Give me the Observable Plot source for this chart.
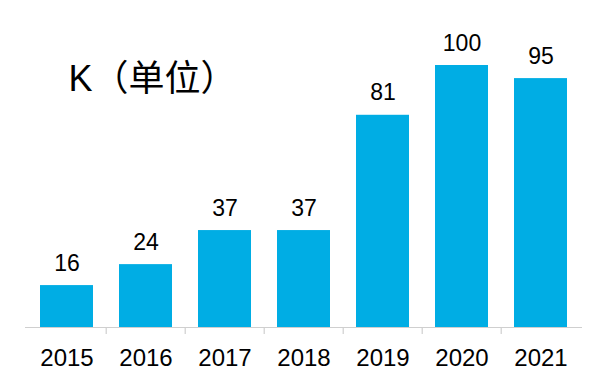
<!DOCTYPE html>
<html>
<head>
<meta charset="utf-8">
<script src="https://cdn.jsdelivr.net/npm/d3@7"></script>
<script src="https://cdn.jsdelivr.net/npm/@observablehq/plot@0.6"></script>
<style>
  html, body { margin: 0; padding: 0; background: #ffffff; }
</style>
</head>
<body>
<div id="chart"></div>
<script>
const years = ["2015", "2016", "2017", "2018", "2019", "2020", "2021"];
const values = [16, 24, 37, 37, 81, 100, 95];
const unitLabel = "K（单位）";

const data = years.map((year, i) => ({year, value: values[i]}));

const W = 603, H = 391;
const mL = 25, mR = 21, mT = 65, mB = 64;
const step = (W - mL - mR) / years.length;
const plotH = H - mT - mB;
const barColor = "#00ADE4";
const axisColor = "#CFCFCF";
const font = "'Liberation Sans', Arial, 'Noto Sans CJK SC', sans-serif";

const chart = Plot.plot({
  width: W,
  height: H,
  marginTop: mT,
  marginBottom: mB,
  marginLeft: mL,
  marginRight: mR,
  style: {fontFamily: font, background: "#ffffff", color: "#000000", overflow: "visible"},
  x: {domain: years, paddingInner: 0.33, paddingOuter: 0.165},
  y: {domain: [0, 100], axis: null},
  marks: [
    Plot.barY(data, {x: "year", y: "value", fill: barColor}),
    Plot.ruleY([0], {stroke: axisColor, strokeWidth: 1.2}),
    Plot.ruleX(years.slice(1), {x: d => d, dx: -step / 2, insetTop: plotH, insetBottom: -7, stroke: axisColor, strokeWidth: 1.2}),
    Plot.text(data, {x: "year", y: "value", text: d => String(d.value), dy: -15, lineAnchor: "bottom", fontSize: 23, fill: "#000000"}),
    Plot.axisX({tickSize: 0, tickPadding: 21, fontSize: 24, label: null, fill: "#000000"}),
    Plot.text([unitLabel], {frameAnchor: "top-left", text: d => d, textAnchor: "start", lineAnchor: "top", dx: 43, dy: 0, fontSize: 36, fill: "#000000"})
  ]
});
document.getElementById("chart").appendChild(chart);
</script>
</body>
</html>
